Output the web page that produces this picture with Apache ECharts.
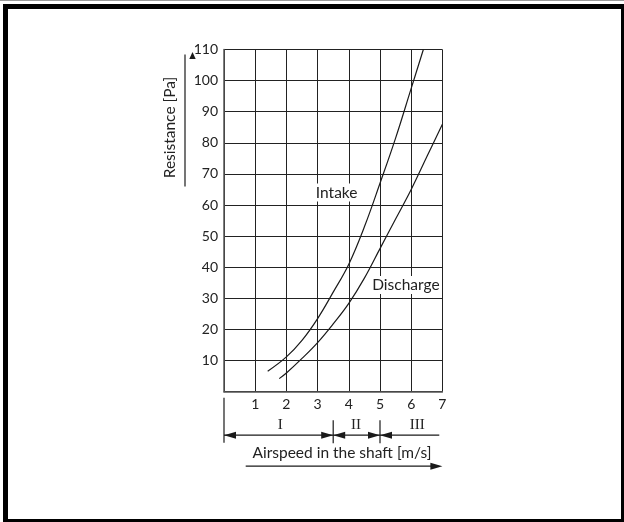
<!DOCTYPE html>
<html>
<head>
<meta charset="utf-8">
<script src="https://cdn.jsdelivr.net/npm/echarts@6/dist/echarts.min.js"></script>
<style>
  html, body { margin: 0; padding: 0; background: #fff; }
  #chart { width: 624px; height: 522px; }
</style>
</head>
<body>
<div id="chart"></div>
<script>
const intakeSpeed = [1.4, 2, 2.5, 3, 3.5, 4, 4.5, 5, 5.5, 6, 6.39];
const intakeResistance = [6.6, 11.2, 16.5, 23.5, 32, 41, 53, 67, 81.5, 97.5, 110];
const dischargeSpeed = [1.77, 2, 2.5, 3, 3.5, 4, 4.5, 5, 5.5, 6, 6.5, 7];
const dischargeResistance = [4.2, 6, 10.7, 15.8, 21.8, 28.4, 36.5, 46, 55.5, 65, 75.5, 86];
const seriesNames = ["Intake", "Discharge"];
const seriesLabelAt = [[3.61, 64], [5.83, 34.3]];
// speed zones under the x axis
const zoneBounds = [0, 3.5, 5, 6.9];
const zoneLabels = ["I", "II", "III"];
const zoneLabelX = [1.8, 4.23, 6.19];
const xTitle = "Airspeed in the shaft [m/s]";
const yTitle = "Resistance [Pa]";

const FONT = "Lato";
const TEXT = "#222";

const chart = echarts.init(document.getElementById("chart"), null, { renderer: "canvas" });

const pairs = (xs, ys) => xs.map((x, i) => [x, ys[i]]);

const lineSeries = (name, data, at) => ({
  name,
  type: "line",
  data,
  smooth: 0.4,
  symbol: "none",
  lineStyle: { color: "#1a1a1a", width: 1.2 },
  z: 3,
  markPoint: {
    symbol: "rect",
    symbolSize: 1,
    itemStyle: { color: "rgba(0,0,0,0)" },
    data: [{ coord: at }],
    label: {
      show: true,
      position: "inside",
      formatter: name,
      color: TEXT,
      fontFamily: FONT,
      fontSize: 15.5,
      backgroundColor: "#fff",
      padding: [1, 2],
    },
  },
});

chart.setOption({
  animation: false,
  backgroundColor: "#fff",
  grid: { left: 224, top: 49.5, width: 218.4, height: 342.2, containLabel: false },
  xAxis: {
    type: "value",
    min: 0,
    max: 7,
    interval: 1,
    axisLine: { show: true, lineStyle: { color: "#555", width: 1.5 } },
    axisTick: { show: false },
    axisLabel: {
      margin: 6,
      color: TEXT,
      fontFamily: FONT,
      fontSize: 14,
      formatter: (v) => (v === 0 ? "" : String(v)),
    },
    splitLine: { show: true, lineStyle: { color: "#222", width: 1 } },
  },
  yAxis: {
    type: "value",
    min: 0,
    max: 110,
    interval: 10,
    axisLine: { show: true, lineStyle: { color: "#555", width: 1.5 } },
    axisTick: { show: false },
    axisLabel: {
      margin: 6,
      color: TEXT,
      fontFamily: FONT,
      fontSize: 14,
      formatter: (v) => (v === 0 ? "" : String(v)),
    },
    splitLine: { show: true, lineStyle: { color: "#222", width: 1 } },
  },
  series: [
    lineSeries(seriesNames[0], pairs(intakeSpeed, intakeResistance), seriesLabelAt[0]),
    lineSeries(seriesNames[1], pairs(dischargeSpeed, dischargeResistance), seriesLabelAt[1]),
  ],
});

// annotation drawing below the plot, placed from the axis scale
const px = (x, y) => chart.convertToPixel({ gridIndex: 0 }, [x, y]);
const [xLeft, yBottom] = px(0, 0);
const [xRight, yTop] = px(7, 110);
const rowY = yBottom + 43.5;
const stroke = { stroke: "#1a1a1a", lineWidth: 1.2 };

const arrowHead = (tipX, tipY, dir) => ({
  type: "polygon",
  shape: { points: [[tipX, tipY], [tipX - dir * 12, tipY - 3.5], [tipX - dir * 12, tipY + 3.5]] },
  style: { fill: "#1a1a1a" },
});

const elements = [];
// outer frame
elements.push({ type: "rect", shape: { x: 0, y: 0, width: 624, height: 1 }, style: { fill: "#999" } });
elements.push({ type: "rect", shape: { x: 3, y: 4, width: 621, height: 5 }, style: { fill: "#000" } });
elements.push({ type: "rect", shape: { x: 3, y: 4, width: 5, height: 518 }, style: { fill: "#000" } });
elements.push({ type: "rect", shape: { x: 3, y: 519, width: 621, height: 3 }, style: { fill: "#000" } });
elements.push({ type: "rect", shape: { x: 621, y: 4, width: 3, height: 518 }, style: { fill: "#000" } });

// zone row
elements.push({ type: "line", shape: { x1: xLeft, y1: yBottom + 6, x2: xLeft, y2: yBottom + 51 }, style: stroke });
const zx = zoneBounds.map((b) => px(b, 0)[0]);
elements.push({ type: "line", shape: { x1: zx[0], y1: rowY, x2: zx[zx.length - 1], y2: rowY }, style: stroke });
elements.push(arrowHead(zx[0], rowY, -1));
for (let i = 1; i < zx.length - 1; i++) {
  elements.push({ type: "line", shape: { x1: zx[i], y1: rowY - 15, x2: zx[i], y2: rowY + 8 }, style: stroke });
  elements.push(arrowHead(zx[i], rowY, 1));
  elements.push(arrowHead(zx[i], rowY, -1));
}
zoneLabels.forEach((lab, i) => {
  elements.push({
    type: "text",
    x: px(zoneLabelX[i], 0)[0],
    y: rowY - 10,
    style: {
      text: lab,
      fill: TEXT,
      font: "15px 'Liberation Serif'",
      align: "center",
      verticalAlign: "middle",
    },
  });
});

// x title with arrow
elements.push({
  type: "text",
  x: px(3.78, 0)[0],
  y: yBottom + 61,
  style: { text: xTitle, fill: TEXT, font: `15.5px ${FONT}`, align: "center", verticalAlign: "middle" },
});
const arrowY = yBottom + 74.5;
elements.push({ type: "line", shape: { x1: xLeft + 21.7, y1: arrowY, x2: xRight - 4, y2: arrowY }, style: stroke });
elements.push(arrowHead(xRight, arrowY, 1));

// y title with line and marker
elements.push({
  type: "text",
  x: 170,
  y: yTop + 78,
  rotation: Math.PI / 2,
  style: { text: yTitle, fill: TEXT, font: `15.5px ${FONT}`, align: "center", verticalAlign: "middle" },
});
elements.push({ type: "line", shape: { x1: 185, y1: yTop + 5, x2: 185, y2: yTop + 137 }, style: stroke });
elements.push({
  type: "polygon",
  shape: { points: [[192.5, yTop + 2.5], [189.3, yTop + 9.5], [195.7, yTop + 9.5]] },
  style: { fill: "#1a1a1a" },
});

chart.setOption({ graphic: { elements } });
</script>
</body>
</html>
